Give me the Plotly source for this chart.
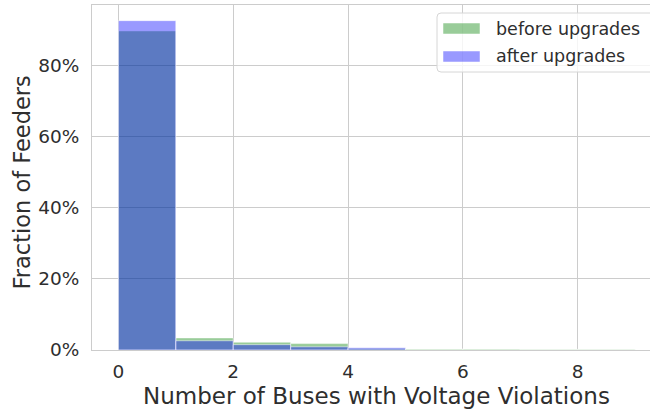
import plotly.graph_objects as go

# Histogram of buses with voltage violations per feeder (fraction of feeders per bin)
bin_left = [0, 1, 2, 3, 4, 5, 6, 7, 8]
before_upgrades = [0.897, 0.034, 0.022, 0.018, 0.004, 0.003, 0.003, 0.002, 0.002]
after_upgrades = [0.926, 0.026, 0.015, 0.009, 0.006, 0.0, 0.0, 0.0, 0.0]
series_names = ["before upgrades", "after upgrades"]

x_ticks = [0, 2, 4, 6, 8]
y_ticks = [0, 0.2, 0.4, 0.6, 0.8]

GREEN = "rgba(0,128,0,0.4)"
BLUE = "rgba(0,0,255,0.4)"
EDGE = "rgba(255,255,255,0.5)"
TEXT = "#2e2e2e"
GRID = "#cccccc"
FONT = "DejaVu Sans"

fig = go.Figure()
for vals, color, name in [(before_upgrades, GREEN, series_names[0]),
                          (after_upgrades, BLUE, series_names[1])]:
    fig.add_trace(go.Bar(
        x=bin_left, y=vals, width=1, offset=0,
        marker=dict(color=color, line=dict(color=EDGE, width=1)),
        name=name, showlegend=False,
    ))

fig.update_layout(
    width=650, height=411,
    margin=dict(l=92, r=0, t=5, b=61),
    barmode="overlay",
    paper_bgcolor="white", plot_bgcolor="white",
    font=dict(family=FONT, color=TEXT, size=18),
    xaxis=dict(
        range=[-0.46, 9.26], tickvals=x_ticks, ticks="",
        showgrid=True, gridcolor=GRID, gridwidth=1,
        showline=True, linecolor=GRID, linewidth=1, mirror=True,
        zeroline=False, tickfont=dict(size=18.5, color=TEXT),
        ticklabelstandoff=5,
    ),
    yaxis=dict(
        range=[0, 0.97], tickvals=y_ticks, tickformat=".0%", ticks="",
        showgrid=True, gridcolor=GRID, gridwidth=1,
        showline=True, linecolor=GRID, linewidth=1,
        zeroline=False, tickfont=dict(size=18.5, color=TEXT),
        ticklabelstandoff=8,
    ),
)

# Axis titles
fig.add_annotation(
    text="Number of Buses with Voltage Violations",
    xref="paper", yref="paper", x=(376 - 92) / 558, y=0,
    xanchor="center", yanchor="middle", yshift=-46, showarrow=False,
    font=dict(size=23, family=FONT, color=TEXT),
)
fig.add_annotation(
    text="Fraction of Feeders",
    xref="paper", yref="paper", x=0, y=0.5,
    xanchor="center", yanchor="middle", xshift=-71, yshift=-5,
    textangle=-90, showarrow=False,
    font=dict(size=22.5, family=FONT, color=TEXT),
)

# Legend box with patches
def px_x(p):
    return (p - 92) / 558

def px_y(p):
    return (350 - p) / 345

fig.add_shape(
    type="path",
    xref="paper", yref="paper",
    path=(f"M {px_x(441)},{px_y(13)} L {px_x(660)},{px_y(13)} "
          f"L {px_x(660)},{px_y(72)} L {px_x(441)},{px_y(72)} "
          f"Q {px_x(437)},{px_y(72)} {px_x(437)},{px_y(68)} "
          f"L {px_x(437)},{px_y(17)} Q {px_x(437)},{px_y(13)} {px_x(441)},{px_y(13)} Z"),
    line=dict(color="#d6d6d6", width=1),
    fillcolor="rgba(255,255,255,0.8)",
)
for (y0, y1, color, name, yc) in [(23, 34, GREEN, series_names[0], 28.5),
                                   (51, 62, BLUE, series_names[1], 56.5)]:
    fig.add_shape(type="rect", xref="paper", yref="paper",
                  x0=px_x(443), x1=px_x(480), y0=px_y(y1), y1=px_y(y0),
                  fillcolor=color, line=dict(color=EDGE, width=1))
    fig.add_annotation(text=name, xref="paper", yref="paper",
                       x=px_x(494), y=px_y(yc), xanchor="left", yanchor="middle",
                       showarrow=False, font=dict(size=17.5, family=FONT, color=TEXT))

fig.write_html("out.html")
